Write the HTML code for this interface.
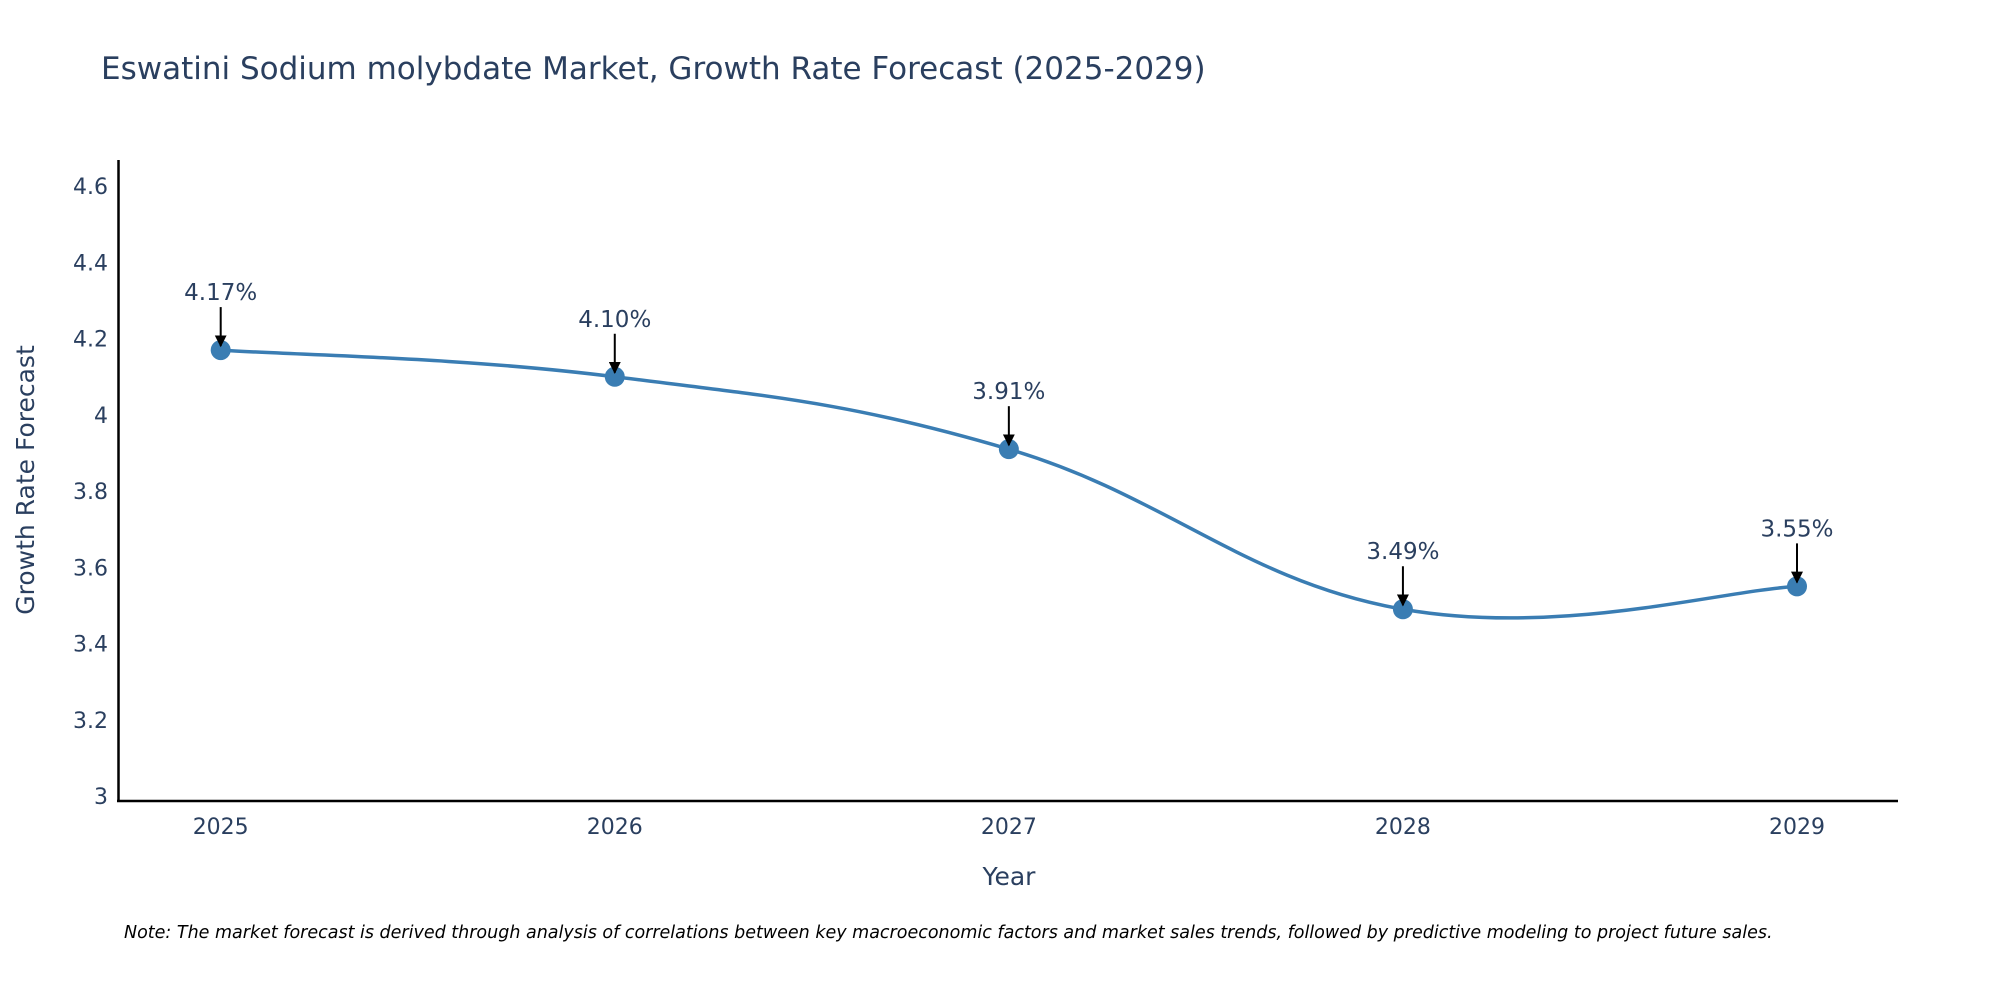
<!DOCTYPE html>
<html><head><meta charset="utf-8"><style>
body{margin:0;background:#fff;}
svg{display:block;font-family:"DejaVu Sans","Liberation Sans",sans-serif;}
</style></head><body>
<svg id="chart" width="2000" height="1000" viewBox="0 0 2000 1000">
<defs><marker id="ah" viewBox="0 0 10 10" refX="9" refY="5" markerWidth="6" markerHeight="6" orient="auto"><path d="M0,0 L10,5 L0,10 z" fill="#000"/></marker></defs>
<text x="101" y="79" font-size="31" fill="#2a3f5f">Eswatini Sodium molybdate Market, Growth Rate Forecast (2025-2029)</text>
<g id="yticks"></g>
<g id="xticks"></g>
<line x1="118.5" y1="160" x2="118.5" y2="802" stroke="#000" stroke-width="2.5"/>
<line x1="117" y1="801" x2="1898" y2="801" stroke="#000" stroke-width="2.5"/>
<text transform="translate(34,480) rotate(-90)" text-anchor="middle" font-size="25" fill="#2a3f5f">Growth Rate Forecast</text>
<text x="1009" y="885" text-anchor="middle" font-size="25" fill="#2a3f5f">Year</text>
<path id="line" fill="none" stroke="#3a7db3" stroke-width="3.5"/>
<g id="pts"></g>
<text x="124" y="938" font-size="17.5" font-style="italic" fill="#000">Note: The market forecast is derived through analysis of correlations between key macroeconomic factors and market sales trends, followed by predictive modeling to project future sales.</text>
</svg>
<script>
const years = ["2025","2026","2027","2028","2029"];
const values = [4.17, 4.10, 3.91, 3.49, 3.55];
const labels = ["4.17%","4.10%","3.91%","3.49%","3.55%"];
const yTicks = [3, 3.2, 3.4, 3.6, 3.8, 4, 4.2, 4.4, 4.6];
const yTickLabels = ["3","3.2","3.4","3.6","3.8","4","4.2","4.4","4.6"];
const NS="http://www.w3.org/2000/svg";
const x = i => 220.7 + i*(1797-220.7)/(years.length-1);
const y = v => 796 - (v-3)*(796-186.2)/1.6;
function mk(t,a,p){const e=document.createElementNS(NS,t);for(const k in a)e.setAttribute(k,a[k]);p.appendChild(e);return e;}
const yt=document.getElementById('yticks');
yTicks.forEach((v,i)=>{const t=mk('text',{x:108,y:y(v)+8,'text-anchor':'end','font-size':22,fill:'#2a3f5f'},yt);t.textContent=yTickLabels[i];

});
const xt=document.getElementById('xticks');
years.forEach((yr,i)=>{const t=mk('text',{x:x(i),y:834,'text-anchor':'middle','font-size':22,fill:'#2a3f5f'},xt);t.textContent=yr;

});
const P=values.map((v,i)=>[x(i),y(v)]);
let d=`M${P[0][0]},${P[0][1]}`;const s=0.2;
for(let i=0;i<P.length-1;i++){const p0=P[i-1]||P[i],p1=P[i],p2=P[i+1],p3=P[i+2]||P[i+1];
d+=` C${p1[0]+(p2[0]-p0[0])*s},${p1[1]+(p2[1]-p0[1])*s} ${p2[0]-(p3[0]-p1[0])*s},${p2[1]-(p3[1]-p1[1])*s} ${p2[0]},${p2[1]}`;}
document.getElementById('line').setAttribute('d',d);
const g=document.getElementById('pts');
P.forEach((p,i)=>{
const c=mk('circle',{cx:p[0],cy:p[1],r:10,fill:'#3a7db3'},g);


const a=mk('line',{x1:p[0],y1:p[1]-43,x2:p[0],y2:p[1]-4,stroke:'#000','stroke-width':2,'marker-end':'url(#ah)'},g);


const t=mk('text',{x:p[0],y:p[1]-50,'text-anchor':'middle','font-size':23,fill:'#2a3f5f'},g);t.textContent=labels[i];


});
</script>
</body></html>
